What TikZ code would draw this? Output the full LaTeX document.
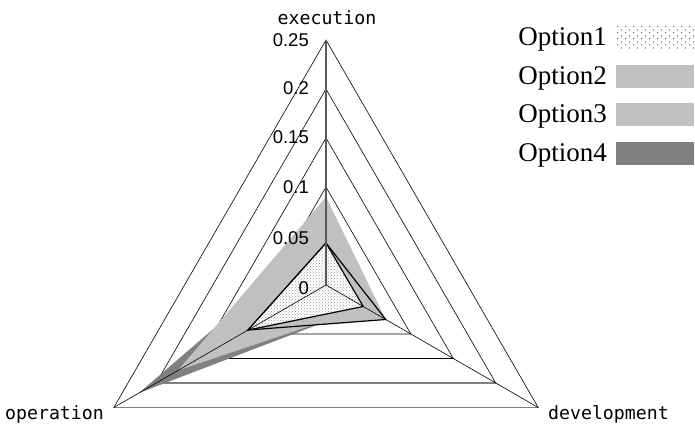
\documentclass[tikz,border=0pt]{standalone}
\usepackage{fontspec}
\setmainfont{Liberation Serif}
\newfontfamily\axisfont{DejaVu Sans Mono}
\newfontfamily\tickfont{Liberation Sans}
\usetikzlibrary{positioning}
\usetikzlibrary{patterns,patterns.meta}
\definecolor{light}{gray}{0.753}
\definecolor{dark}{gray}{0.502}

\tikzdeclarepattern{
  name=legdots,
  type=uncolored,
  bottom left={(0pt,0pt)},
  top right={(8pt,6pt)},
  tile size={(8pt,6pt)},
  code={
    \fill (2pt,1.5pt) circle (0.6pt);
    \fill (6pt,4.5pt) circle (0.6pt);
  }
}

\begin{document}
\begin{tikzpicture}[%
  x=1pt, y=1pt,
  gridline/.style={line width=0.6pt, black},
  gridlow/.style={line width=1.2pt, dark},
  spoke/.style={line width=0.6pt, black},
  serieline/.style={line width=1.2pt, black},
  opt1/.style={pattern=crosshatch dots, pattern color=black!40},
  opt2/.style={fill=light},
  opt3/.style={fill=light},
  opt4/.style={fill=dark},
  ticklab/.style={font=\tickfont\fontsize{18.5}{20}\selectfont, inner sep=0pt, anchor=east},
  axislab/.style={font=\axisfont\fontsize{18.2}{20}\selectfont, inner sep=0pt},
  legtext/.style={font=\fontsize{27}{30}\selectfont, inner sep=0pt, anchor=base east},
  legkey/.style={minimum width=78pt, minimum height=23pt, inner sep=0pt, yshift=2.5pt},
]
  \useasboundingbox (-326,-145) rectangle (369,285);

  \coordinate (O) at (0,0);
  \coordinate (E) at (90:245);
  \coordinate (P) at (210:245);
  \coordinate (D) at (330:245);

  % series points (execution, development, operation)
  \coordinate (e1) at (90:42);  \coordinate (d1) at (330:43); \coordinate (o1) at (210:90);
  \coordinate (e2) at (90:88);  \coordinate (d2) at (330:69); \coordinate (o2) at (210:90);
  \coordinate (e3) at (90:88);  \coordinate (d3) at (330:45); \coordinate (o3) at (210:171);
  \coordinate (e4) at (90:53);  \coordinate (d4) at (330:44); \coordinate (o4) at (210:216);

  % grid
  \draw[gridline] (90:49) -- (210:49) -- (330:49) -- cycle;
  \draw[gridline] (90:98) -- (210:98) -- (330:98) -- cycle;
  \draw[gridline] (90:147) -- (210:147) -- (330:147) -- cycle;
  \draw[gridline] (90:196) -- (210:196) -- (330:196) -- cycle;
  \draw[gridline] (E) -- (P) -- (D) -- cycle;
  \draw[gridlow] (210:196) -- (330:196);
  \draw[gridlow] (P) -- (D);

  % filled series
  \fill[opt4] (e4) -- (d4) -- (o4) -- cycle;
  \fill[opt3] (e3) -- (d3) -- (o3) -- cycle;
  \fill[opt2] (e2) -- (d2) -- (o2) -- cycle;
  \draw[serieline] (e1) -- (d2) -- (o2) -- cycle;
  \fill[white] (e1) -- (d1) -- (o1) -- cycle;
  \path[opt1] (e1) -- (d1) -- (o1) -- cycle;
  \draw[serieline] (e1) -- (d1) -- (o1) -- cycle;

  % spokes
  \draw[spoke, line width=1.3pt, black!65] (O) -- (E);
  \draw[spoke] (O) -- (P);
  \draw[spoke] (O) -- (D);

  % scale
  \node[ticklab] (t0) at (-17,-3) {0};
  \node[ticklab] (t1) at (-17,47) {0.05};
  \node[ticklab] (t2) at (-17,98) {0.1};
  \node[ticklab] (t3) at (-17,148) {0.15};
  \node[ticklab] (t4) at (-17,197) {0.2};
  \node[ticklab] (t5) at (-17,245) {0.25};

  \node[axislab, anchor=base] (lexec) at (1,260) {execution};
  \node[axislab, anchor=base west] (ldev) at (222,-135) {development};
  \node[axislab, anchor=base east] (lop) at (-222,-135) {operation};

  % legend
  \node[legtext] (l1) at (281,239) {Option1};
  \node[legtext] (l2) at (281,200) {Option2};
  \node[legtext] (l3) at (281,162) {Option3};
  \node[legtext] (l4) at (281,123) {Option4};
  \node[legkey, pattern=legdots, pattern color=black, right=9pt of l1] (k1) {};
  \node[legkey, fill=light, right=9pt of l2] (k2) {};
  \node[legkey, fill=light, right=9pt of l3] (k3) {};
  \node[legkey, fill=dark, right=9pt of l4] (k4) {};

\end{tikzpicture}
\end{document}
